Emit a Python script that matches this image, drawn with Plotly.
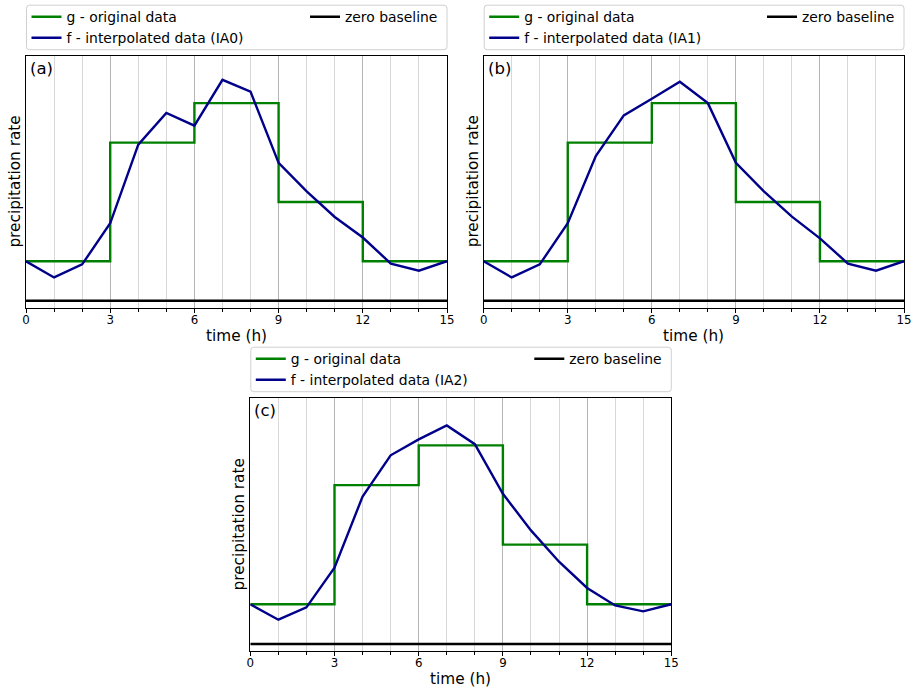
import plotly.graph_objects as go

# ---- data ----
hours = list(range(16))
g_times = [0, 3, 6, 9, 12, 15]
g_values = [1.0, 4.0, 5.0, 2.5, 1.0, 1.0]
f_ia0 = [1.0, 0.59, 0.92, 1.96, 3.95, 4.75, 4.43, 5.59, 5.29, 3.49, 2.77, 2.12, 1.60, 0.94, 0.76, 1.0]
f_ia1 = [1.0, 0.59, 0.92, 1.96, 3.66, 4.69, 5.11, 5.54, 5.00, 3.49, 2.77, 2.13, 1.58, 0.94, 0.76, 1.0]
f_ia2 = [1.0, 0.61, 0.92, 1.92, 3.71, 4.75, 5.15, 5.50, 5.03, 3.78, 2.86, 2.07, 1.41, 0.97, 0.82, 1.0]
panel_labels = ["(a)", "(b)", "(c)"]
method_names = ["IA0", "IA1", "IA2"]
f_series = [f_ia0, f_ia1, f_ia2]
x_ticks = [0, 3, 6, 9, 12, 15]
zero_x = [0, 15]
zero_y = [0, 0]
x_title = "time (h)"
y_title = "precipitation rate"

W, H = 911, 689
FONT = "DejaVu Sans"

# panel geometry in pixels: (left, right, top, bottom)
panels = [(26, 447, 55.7, 307.5), (483.7, 904, 55.7, 307.5), (250.3, 671.3, 397.7, 650.7)]


def rounded_box(x0p, x1p, ytop, ybot, rad=3.0):
    """Rounded rectangle path in paper coords from pixel values."""
    X0, X1 = x0p / W, x1p / W
    YT, YB = 1 - ytop / H, 1 - ybot / H
    rx, ry = rad / W, rad / H
    return (f"M {X0+rx},{YT} L {X1-rx},{YT} Q {X1},{YT} {X1},{YT-ry} L {X1},{YB+ry} "
            f"Q {X1},{YB} {X1-rx},{YB} L {X0+rx},{YB} Q {X0},{YB} {X0},{YB+ry} "
            f"L {X0},{YT-ry} Q {X0},{YT} {X0+rx},{YT} Z")


fig = go.Figure()
layout = {}
shapes = []
annotations = []

for i, (l, r, t, b) in enumerate(panels):
    n = "" if i == 0 else str(i + 1)
    xa, ya = "x" + n, "y" + n
    leg_main = "legend" if i == 0 else "legend" + str(i + 1)
    leg_zero = "legend" + str(i + 4)
    fig.add_trace(go.Scatter(x=g_times, y=g_values, mode="lines", line=dict(color="#008000", width=2.4, shape="hv"),
                             name="g - original data", xaxis=xa, yaxis=ya, legend=leg_main))
    fig.add_trace(go.Scatter(x=hours, y=f_series[i], mode="lines", line=dict(color="#00008B", width=2.4),
                             name="f - interpolated data (%s)" % method_names[i], xaxis=xa, yaxis=ya, legend=leg_main))
    fig.add_trace(go.Scatter(x=zero_x, y=zero_y, mode="lines", line=dict(color="black", width=2.6),
                             name="zero baseline", xaxis=xa, yaxis=ya, legend=leg_zero))

    layout["xaxis" + n] = dict(
        domain=[l / W, r / W], anchor=ya, range=[0, 15], automargin=False,
        tickvals=x_ticks, ticks="outside", ticklen=4, tickcolor="black", ticklabelstandoff=-3,
        ticklabeloverflow="allow",
        tickfont=dict(family=FONT, size=11.8, color="black"),
        showgrid=True, gridcolor="#b5b5b5", gridwidth=1,
        minor=dict(dtick=1, showgrid=True, gridcolor="#d8d8d8", gridwidth=1, ticks="outside", ticklen=3, tickcolor="black"),
        showline=True, linecolor="black", linewidth=1, mirror=True, zeroline=False,
    )
    layout["yaxis" + n] = dict(
        domain=[1 - b / H, 1 - t / H], anchor=xa, range=[-0.17, 6.2], automargin=False,
        showticklabels=False, ticks="", showgrid=False, zeroline=False,
        showline=True, linecolor="black", linewidth=1, mirror=True,
    )
    # axis titles
    annotations.append(dict(text=x_title, xref="paper", yref="paper", x=(l + r) / 2 / W, y=1 - (b + 28.5) / H,
                            xanchor="center", yanchor="middle", showarrow=False,
                            font=dict(family=FONT, size=15.3, color="black")))
    annotations.append(dict(text=y_title, xref="paper", yref="paper", x=(l - 11) / W, y=1 - (t + b) / 2 / H,
                            xanchor="center", yanchor="middle", showarrow=False, textangle=-90,
                            font=dict(family=FONT, size=15.3, color="black")))
    # legend frame
    shapes.append(dict(type="path", xref="paper", yref="paper",
                       path=rounded_box(l + 0.5, r, t - 50.5, t - 6),
                       line=dict(color="#d0d0d0", width=1), fillcolor="white", layer="below"))
    layout[leg_main] = dict(x=(l + 0.5) / W, y=1 - (t - 54.5) / H, xanchor="left", yanchor="top",
                            xref="paper", yref="paper", bgcolor="rgba(0,0,0,0)", borderwidth=0,
                            font=dict(family=FONT, size=13.9, color="black"), tracegroupgap=0)
    layout[leg_zero] = dict(x=(r - 142) / W, y=1 - (t - 54.5) / H, xanchor="left", yanchor="top",
                            xref="paper", yref="paper", bgcolor="rgba(0,0,0,0)", borderwidth=0,
                            font=dict(family=FONT, size=13.9, color="black"))
    annotations.append(dict(text=panel_labels[i], xref=xa + " domain", yref=ya + " domain", x=0.005, y=0.995,
                            xanchor="left", yanchor="top", showarrow=False,
                            font=dict(family=FONT, size=16.5, color="black")))

fig.update_layout(
    width=W, height=H, margin=dict(l=0, r=0, t=0, b=0, autoexpand=False),
    paper_bgcolor="white", plot_bgcolor="white",
    shapes=shapes, annotations=annotations, showlegend=True,
    font=dict(family=FONT, color="black"),
    **layout,
)
fig.write_html("out.html", config={"displayModeBar": False},
               post_script="document.body.style.margin='0';document.body.style.padding='0';")
